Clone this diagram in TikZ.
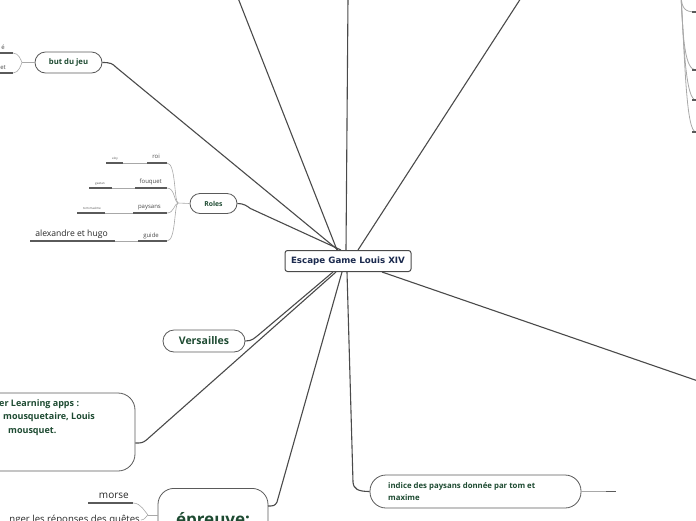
\documentclass[tikz,border=0pt]{standalone}
\usepackage{fontspec}
\setmainfont{Open Sans}
\newfontfamily\dejavu{DejaVu Sans}
\definecolor{tg}{HTML}{1E4B32}
\definecolor{nv}{HTML}{1B2A4E}
\definecolor{ln}{HTML}{4A4A4A}
\definecolor{bd}{HTML}{5A5A5A}
\definecolor{fg}{HTML}{A8A8A8}
\begin{document}
\begin{tikzpicture}[x=1pt,y=-1pt,
  pill/.style={draw=bd, line width=0.8pt, fill=white, inner sep=0pt},
  conn/.style={draw=ln, line width=1.1pt},
  fan/.style={draw=fg, line width=0.6pt},
  ul/.style={draw=bd, line width=1.2pt},
  lbl/.style={inner sep=1pt, font=\fontsize{6}{7}\selectfont, text=ln},
  tiny/.style={inner sep=1pt, font=\fontsize{3}{3.5}\selectfont, text=ln},
  big/.style={inner sep=1pt, font=\fontsize{8.6}{10}\selectfont, text=black!85},
]
\useasboundingbox (0,0) rectangle (696,520);
\clip (0,0) rectangle (696,520);

% central node
\node[pill, minimum width=126pt, minimum height=21pt, rounded corners=2.5pt, line width=1pt, draw=ln] (c) at (348,261)
  {\dejavu\bfseries\fontsize{8.7}{10}\selectfont\color{nv}Escape Game Louis XIV};

% off-picture ends
\coordinate (t1) at (238,-2);
\coordinate (t2) at (348,-2);
\coordinate (t3) at (521,-2);
\coordinate (r1) at (698,381);
\draw[conn] ([xshift=-11pt]c.north) -- (t1);
\draw[conn] ([xshift=-2pt]c.north) -- (t2);
\draw[conn] ([xshift=10pt]c.north) -- (t3);
\draw[conn] ([xshift=34pt]c.south) -- (r1);

% but du jeu
\node[pill, minimum width=67pt, minimum height=21pt, rounded corners=10.5pt] (b) at (68.5,62.5)
  {\bfseries\fontsize{7.7}{9}\selectfont\color{tg}but du jeu};
\draw[conn] (b.east) .. controls +(8,0) and +(-4,-4) .. ++(14,5) -- ([xshift=-10pt]c.north);
\coordinate (bf) at (22,62.5);
\draw[fan] (bf) -- (b.west);
\node[lbl, anchor=south east] (b1) at (6,51) {é};
\node[lbl, anchor=south east] (b2) at (7,71) {et};
\coordinate (b1e) at (13,53);
\coordinate (b2e) at (13,73);
\draw[ul] (0,53) -- (b1e);
\draw[ul] (0,73) -- (b2e);
\draw[fan] (b1e) .. controls +(6,0) and +(-1,-2) .. (bf);
\draw[fan] (b2e) .. controls +(6,0) and +(-1,2) .. (bf);

% Roles
\node[pill, minimum width=47pt, minimum height=20pt, rounded corners=10pt] (ro) at (213.5,203.5)
  {\bfseries\fontsize{6.8}{8}\selectfont\color{tg}Roles};
\draw[conn] (ro.east) .. controls +(6,0) and +(-4,-3) .. ++(13,5) -- ([xshift=-7pt]c.north);
\coordinate (rf) at (178,203);
\draw[fan] (rf) -- (ro.west);

\node[lbl, anchor=base east] (roi) at (161,158) {roi};
\node[lbl, anchor=base east] (fou) at (163,183) {fouquet};
\node[lbl, anchor=base east] (pay) at (162,208) {paysans};
\node[lbl, anchor=base east] (gui) at (160,237) {guide};
\coordinate (roiA) at (147,163); \coordinate (roiB) at (167,163);
\coordinate (fouA) at (135,188); \coordinate (fouB) at (167,188);
\coordinate (payA) at (133,213); \coordinate (payB) at (167,213);
\coordinate (guiA) at (138,241); \coordinate (guiB) at (167,241);
\draw[ul] (roiA) -- (roiB);
\draw[ul] (fouA) -- (fouB);
\draw[ul] (payA) -- (payB);
\draw[ul] (guiA) -- (guiB);
\draw[fan] (roiB) .. controls +(9,0) and +(-4,-2) .. (rf);
\draw[fan] (fouB) .. controls +(8,0) and +(-4,-1) .. (rf);
\draw[fan] (payB) .. controls +(7,0) and +(-4,1) .. (rf);
\draw[fan] (guiB) .. controls +(9,0) and +(-4,2) .. (rf);

\node[tiny, anchor=base] (eloy) at (115,159) {eloy};
\node[tiny, anchor=base] (gae) at (100,184.5) {gaetan};
\node[tiny, anchor=base] (tom) at (92,209.5) {tom maxime};
\node[big, anchor=base] (alx) at (71.5,236) {alexandre et hugo};
\coordinate (eloyA) at (106,163); \coordinate (eloyB) at (123,163);
\coordinate (gaeA) at (89,188); \coordinate (gaeB) at (112,188);
\coordinate (tomA) at (77,213); \coordinate (tomB) at (105,213);
\coordinate (alxA) at (30,241); \coordinate (alxB) at (115,241);
\draw[ul] (eloyA) -- (eloyB);
\draw[ul] (gaeA) -- (gaeB);
\draw[ul] (tomA) -- (tomB);
\draw[ul] (alxA) -- (alxB);
\draw[fan] (eloyB) -- (roiA);
\draw[fan] (gaeB) -- (fouA);
\draw[fan] (tomB) -- (payA);
\draw[fan] (alxB) -- (guiA);

% Versailles
\node[pill, minimum width=82pt, minimum height=22pt, rounded corners=11pt] (v) at (204,341)
  {\bfseries\fontsize{10.5}{12}\selectfont\color{tg}Versailles};
\draw[conn] (v.east) .. controls +(7,0) and +(-4,3) .. ++(13,-6) -- ([xshift=-15pt]c.south);

% Learning apps
\node[pill, minimum width=170pt, minimum height=78pt, rounded corners=17pt] (la) at (50,432) {};
\node[anchor=north west, inner sep=0pt, align=left, font=\bfseries\fontsize{9}{13.5}\selectfont, text=tg] (lat) at (-1,399)
  {er Learning apps :\\\hspace*{4pt}mousquetaire, Louis\\\hspace*{9pt}mousquet.};
\draw[conn] (la.east) ++(0,11) coordinate (lae) .. controls +(6,0) and +(-4,3) .. ++(11,-3) -- ([xshift=-12pt]c.south);

% epreuve
\node[pill, minimum width=110pt, minimum height=60pt, rounded corners=16pt, anchor=north] (ep) at (213,488) {};
\node[anchor=base, inner sep=0pt, font=\bfseries\fontsize{17}{19}\selectfont, text=tg] (ept) at (213,525) {épreuve:};
\coordinate (epe) at (268,506);
\draw[conn] (epe) .. controls +(5,0) and +(-2,4) .. ++(9,-4) -- ([xshift=-6pt]c.south);
\coordinate (ef) at (148,515);
\node[inner sep=1pt, anchor=base east, font=\fontsize{10}{11}\selectfont, text=black!85] (mor) at (130,498) {morse};
\coordinate (morA) at (88,503); \coordinate (morB) at (133,503);
\draw[ul] (morA) -- (morB);
\draw[fan] (morB) .. controls +(8,0) and +(-3,-3) .. (ef);
\draw[fan] (ef) -- (158,515);
\node[inner sep=1pt, anchor=base east, font=\fontsize{9.6}{11}\selectfont, text=black!85] (ch) at (141,522) {nger les réponses des quêtes};
\draw[fan] (141,520) .. controls +(4,0) and +(-2,1) .. (ef);

% indice
\node[pill, minimum width=211pt, minimum height=33pt, rounded corners=16pt] (ind) at (475.5,491.5) {};
\node[anchor=west, inner sep=0pt, align=left, font=\bfseries\fontsize{7.8}{11.5}\selectfont, text=tg] (indt) at (388,491.5)
  {indice des paysans donnée par tom et\\maxime};
\draw[conn] ([xshift=-1pt]c.south) -- (353,482) .. controls (353.5,489) and (358,491.5) .. (ind.west);
\coordinate (iA) at (606,491.5); \coordinate (iB) at (616,491.5);
\draw[fan, line width=0.9pt] (ind.east) -- (iA);
\draw[ul] (iA) -- (iB);

% top-right fragments
\coordinate (tr) at (681,-4);
\draw[fan, line width=0.8pt] (tr) .. controls (682,8) and (684,12) .. (696,12);
\draw[fan, line width=0.8pt] (tr) .. controls (683,40) and (685,70) .. (696,70);
\draw[fan, line width=0.8pt] (tr) .. controls (684,50) and (686,100) .. (696,100);
\draw[fan, line width=0.8pt] (tr) .. controls (685,60) and (686,132) .. (696,132);
\draw[ul] (692,12) -- (697,12);
\draw[ul] (692,70) -- (697,70);
\draw[ul] (692,100) -- (697,100);
\draw[ul] (692,132) -- (697,132);
\end{tikzpicture}
\end{document}
